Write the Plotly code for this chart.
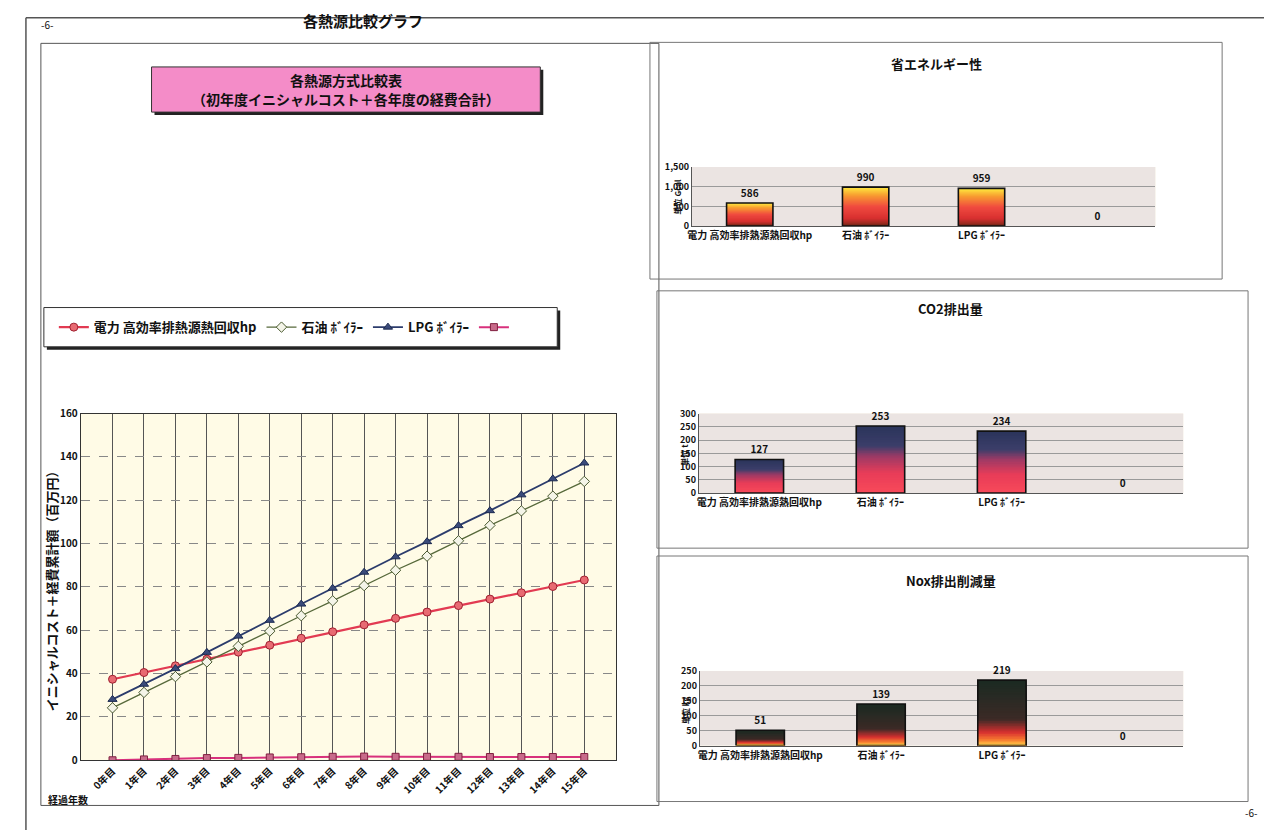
import plotly.graph_objects as go

W, H = 1264, 837
FONT = "Noto Sans CJK JP"

# ---------------- data ----------------
years = ["0年目", "1年目", "2年目", "3年目", "4年目", "5年目", "6年目", "7年目",
         "8年目", "9年目", "10年目", "11年目", "12年目", "13年目", "14年目", "15年目"]
elec = [37.4, 40.5, 43.6, 46.7, 49.9, 53.1, 56.3, 59.3, 62.5, 65.5, 68.4, 71.4, 74.4, 77.3, 80.2, 83.2]
oil = [24.2, 31.3, 38.6, 45.4, 52.6, 59.6, 66.7, 73.6, 80.6, 87.7, 94.2, 101.3, 108.4, 115.1, 121.9, 128.7]
lpg = [28.1, 35.1, 42.3, 49.8, 57.3, 64.6, 72.1, 79.4, 86.8, 93.9, 100.9, 108.3, 115.2, 122.5, 129.9, 137.2]
other = [0, 0.4, 0.6, 1.0, 1.1, 1.3, 1.4, 1.6, 1.7, 1.6, 1.6, 1.6, 1.5, 1.5, 1.5, 1.5]

series_names = ["電力 高効率排熱源熱回収hp", "石油 ﾎﾞｲﾗｰ", "LPG ﾎﾞｲﾗｰ", " "]

bar_cats = ["電力 高効率排熱源熱回収hp", "石油 ﾎﾞｲﾗｰ", "LPG ﾎﾞｲﾗｰ", "\u3000"]
energy = [586, 990, 959, 0]
co2 = [127, 253, 234, 0]
nox = [51, 139, 219, 0]


def px(x):
    return x / W


def py(y):
    return 1 - y / H


def hexrgb(h):
    h = h.lstrip("#")
    return tuple(int(h[i:i + 2], 16) for i in (0, 2, 4))


def scale_color(stops, t):
    for i in range(len(stops) - 1):
        t0, c0 = stops[i]
        t1, c1 = stops[i + 1]
        if t0 <= t <= t1:
            f = 0 if t1 == t0 else (t - t0) / (t1 - t0)
            a, b = hexrgb(c0), hexrgb(c1)
            return "rgb(%d,%d,%d)" % tuple(round(a[k] + (b[k] - a[k]) * f) for k in range(3))
    return stops[-1][1]


fig = go.Figure()

# ---------------- line chart ----------------
line_styles = [
    dict(line=dict(color="#e23a52", width=2.2),
         marker=dict(symbol="circle", size=8, color="#e86a72", line=dict(color="#a02030", width=1))),
    dict(line=dict(color="#56683a", width=1.3),
         marker=dict(symbol="diamond", size=8, color="#f4f4e8", line=dict(color="#4a5a30", width=1))),
    dict(line=dict(color="#2c3c6c", width=1.8),
         marker=dict(symbol="triangle-up", size=8, color="#3a4a7a", line=dict(color="#1c2a50", width=1))),
    dict(line=dict(color="#d8307c", width=2),
         marker=dict(symbol="square", size=7, color="#c86a8a", line=dict(color="#802040", width=1))),
]
for name, vals, st in zip(series_names, [elec, oil, lpg, other], line_styles):
    fig.add_trace(go.Scatter(x=years, y=vals, name=name, mode="lines+markers",
                             xaxis="x", yaxis="y", **st))

# ---------------- gradient bar charts ----------------
# Each bar is painted as nested bars from 0 up to a decreasing fraction of its value
# (tallest first), so the visible bands form a seamless vertical gradient.
N = 40
charts = [
    ("x2", "y2", energy, [(0, "#7a2818"), (0.2, "#d83030"), (0.5, "#f04a40"), (0.8, "#f8a030"), (1, "#ffec40")]),
    ("x3", "y3", co2, [(0, "#f84a5a"), (0.3, "#e83c58"), (0.55, "#9a3a66"), (0.7, "#3c3e6a"), (1, "#2a345a")]),
    ("x4", "y4", nox, [(0, "#ffd84c"), (0.08, "#f88030"), (0.2, "#d83030"), (0.4, "#3c2a26"), (1, "#1a2a22")]),
]
for xa, ya, vals, stops in charts:
    for k in range(N):
        frac = (N - k) / N
        fig.add_trace(go.Bar(
            x=bar_cats, y=[v * frac for v in vals],
            xaxis=xa, yaxis=ya, width=0.4, showlegend=False, hoverinfo="skip",
            marker=dict(color=scale_color(stops, frac - 0.5 / N), line=dict(width=0))))
    fig.add_trace(go.Bar(
        x=bar_cats, y=vals, xaxis=xa, yaxis=ya, width=0.4,
        showlegend=False, text=[str(v) for v in vals], textposition="outside",
        textfont=dict(size=10, color="#111", family=FONT, weight="bold"),
        cliponaxis=False,
        marker=dict(color="rgba(0,0,0,0)",
                    line=dict(color="#111", width=[1.6 if v else 0 for v in vals]))))

# ---------------- layout ----------------
tickf = dict(family=FONT, size=10, color="#111", weight="bold")
small = dict(family=FONT, size=9, color="#111", weight="bold")

layout = dict(
    width=W, height=H, autosize=False,
    margin=dict(l=0, r=0, t=0, b=0),
    paper_bgcolor="white", plot_bgcolor="#fffbe6",
    font=dict(family=FONT, color="#111"),
    barmode="overlay",
    showlegend=True,
    legend=dict(orientation="h", x=px(50), y=py(325), xanchor="left", yanchor="middle",
                font=dict(family=FONT, size=13, color="#111", weight="bold"),
                bgcolor="rgba(0,0,0,0)", itemwidth=30, tracegroupgap=0),
    xaxis=dict(domain=[px(77), px(614)], anchor="y", type="category",
               tickangle=-45, tickfont=tickf, showgrid=True, gridcolor="#555", gridwidth=1,
               showline=True, linecolor="#333", mirror=True, ticks=""),
    yaxis=dict(domain=[py(766), py(413)], anchor="x", range=[0, 160], dtick=20,
               tickfont=tickf, showgrid=True, gridcolor="#888", griddash="dash",
               showline=True, linecolor="#333", mirror=True, zeroline=False, ticks=""),
)


def bar_axes(xd, yd, rng, dt, fmt=""):
    xa = dict(domain=xd, type="category", tickfont=tickf, showgrid=False,
              showline=True, linecolor="#555", ticks="", fixedrange=True)
    ya = dict(domain=yd, range=rng, dtick=dt, tickfont=small, showgrid=True,
              gridcolor="#9a9a9a", gridwidth=1, showline=True, linecolor="#555",
              zeroline=False, ticks="", tickformat=fmt)
    return xa, ya


bg_bar = "#ebe4e2"
xa2, ya2 = bar_axes([px(690), px(1155)], [py(222), py(162)], [0, 1500], 500, ",d")
xa3, ya3 = bar_axes([px(697), px(1183)], [py(494), py(413)], [0, 300], 50)
xa4, ya4 = bar_axes([px(698), px(1183)], [py(751), py(675)], [0, 250], 50)
xa2["anchor"], ya2["anchor"] = "y2", "x2"
xa3["anchor"], ya3["anchor"] = "y3", "x3"
xa4["anchor"], ya4["anchor"] = "y4", "x4"
layout.update(xaxis2=xa2, yaxis2=ya2, xaxis3=xa3, yaxis3=ya3, xaxis4=xa4, yaxis4=ya4)
fig.update_layout(**layout)

# ---------------- shapes ----------------
shapes = []


def rect(x0, y0, x1, y1, color="#444", width=1, fill=None, layer="below"):
    shapes.append(dict(type="rect", xref="paper", yref="paper",
                       x0=px(x0), x1=px(x1), y0=py(y0), y1=py(y1),
                       line=dict(color=color, width=width),
                       fillcolor=fill if fill else "rgba(0,0,0,0)", layer=layer))


def hline(x0, x1, y, color="#333", width=1):
    shapes.append(dict(type="line", xref="paper", yref="paper", x0=px(x0), x1=px(x1),
                       y0=py(y), y1=py(y), line=dict(color=color, width=width)))


def vline(x, y0, y1, color="#333", width=1):
    shapes.append(dict(type="line", xref="paper", yref="paper", x0=px(x), x1=px(x),
                       y0=py(y0), y1=py(y1), line=dict(color=color, width=width)))


# page frame
hline(22, 1264, 10, "#555", 1.5)
vline(22, 10, 837, "#555", 1.5)
# left chart frame
rect(37, 36, 657, 812, "#555", 1)
# right panels
rect(648, 35, 1222, 276, "#777", 1)
rect(655, 288, 1248, 550, "#777", 1)
rect(655, 558, 1248, 808, "#777", 1)
# bar plot backgrounds
rect(690, 162, 1155, 222, "#ebe4e2", 0, bg_bar)
rect(697, 413, 1183, 494, "#ebe4e2", 0, bg_bar)
rect(698, 675, 1183, 751, "#ebe4e2", 0, bg_bar)
# pink title box with shadow
rect(151, 63, 541, 109, "#222", 0, "#222")
rect(148, 60, 538, 106, "#333", 1, "#f48cc8")
# legend box with shadow
rect(43, 308, 558, 348, "#222", 0, "#222")
rect(40, 305, 555, 345, "#333", 1, "white")
fig.update_layout(shapes=shapes)

# ---------------- annotations ----------------
ann = []


def text(x, y, s, size=12, bold=True, angle=0, xanchor="center", color="#111"):
    ann.append(dict(xref="paper", yref="paper", x=px(x), y=py(y), text=s, showarrow=False,
                    xanchor=xanchor, yanchor="middle", textangle=angle,
                    font=dict(family=FONT, size=size, color=color,
                              weight="bold" if bold else "normal")))


text(360, 13, "各熱源比較グラフ", 15)
text(44, 17, "-6-", 10, False)
text(1251, 819, "-6-", 10, False)
text(343, 73, "各熱源方式比較表", 14)
text(343, 93, "（初年度イニシャルコスト＋各年度の経費合計）", 14)
text(48, 590, "イニシャルコスト＋経費累計額（百万円）", 13, True, -90)
text(64, 806, "経過年数", 10)
text(935, 57, "省エネルギー性", 13)
text(950, 306, "CO2排出量", 13)
text(950, 583, "Nox排出削減量", 13)
text(676, 192, "単位 Gcal", 8, True, -90)
text(683, 455, "単位 t", 8, True, -90)
text(683, 715, "単位 kg", 8, True, -90)
fig.update_layout(annotations=ann)

fig.write_html("out.html")
